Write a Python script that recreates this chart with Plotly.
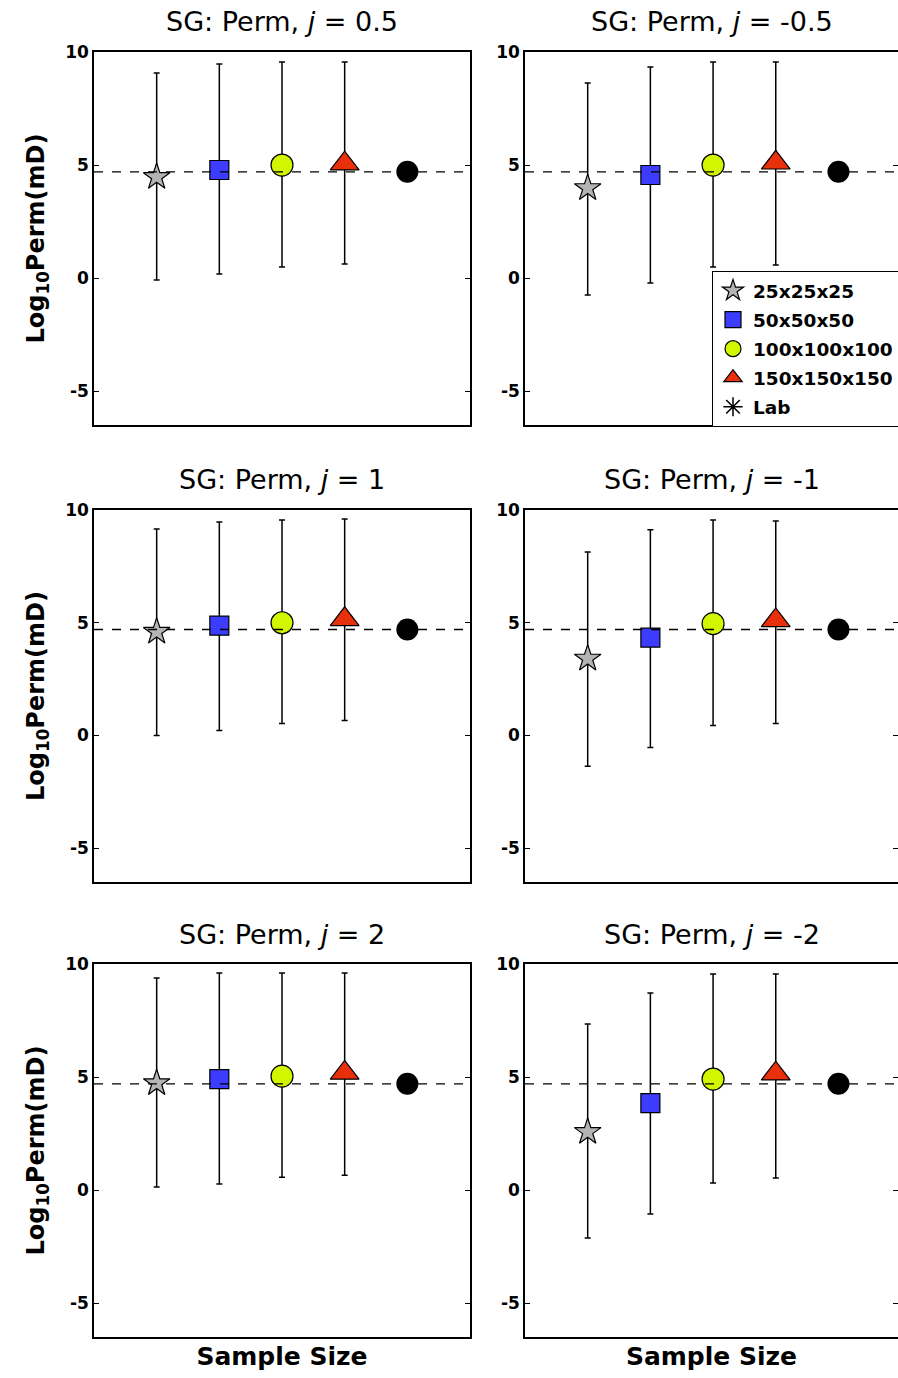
import plotly.graph_objects as go

# ---------------- data ----------------
sample_sizes = ["25x25x25", "50x50x50", "100x100x100", "150x150x150"]
lab_label = "Lab"
j_values = ["0.5", "-0.5", "1", "-1", "2", "-2"]

# mean log10 permeability per panel (order follows j_values)
mean_25 = [4.47, 3.98, 4.60, 3.41, 4.73, 2.57]
mean_50 = [4.78, 4.56, 4.87, 4.34, 4.91, 3.85]
mean_100 = [5.00, 5.00, 5.00, 4.96, 5.04, 4.91]
mean_150 = [5.06, 5.10, 5.15, 5.10, 5.18, 5.15]

upper_25 = [9.07, 8.63, 9.16, 8.14, 9.38, 7.35]
lower_25 = [-0.09, -0.75, 0.00, -1.37, 0.13, -2.12]
upper_50 = [9.47, 9.34, 9.47, 9.12, 9.60, 8.72]
lower_50 = [0.18, -0.22, 0.22, -0.53, 0.27, -1.06]
upper_100 = [9.56, 9.56, 9.56, 9.56, 9.60, 9.56]
lower_100 = [0.49, 0.49, 0.53, 0.44, 0.57, 0.31]
upper_150 = [9.56, 9.56, 9.60, 9.51, 9.60, 9.56]
lower_150 = [0.62, 0.58, 0.66, 0.53, 0.66, 0.53]

lab_value = [4.70, 4.70, 4.70, 4.70, 4.70, 4.70]

y_ticks = [-5, 0, 5, 10]
y_tick_text = ["-5", "0", "5", "10"]

# ---------------- styles ----------------
FONT = "DejaVu Sans, sans-serif"
styles = [
    dict(symbol="star", size=20, color="#b4b4b4"),
    dict(symbol="square", size=19, color="#3c3cff"),
    dict(symbol="circle", size=22, color="#d2f500"),
    dict(symbol="triangle-up", size=25, color="#e8300c"),
]
means = [mean_25, mean_50, mean_100, mean_150]
uppers = [upper_25, upper_50, upper_100, upper_150]
lowers = [lower_25, lower_50, lower_100, lower_150]

W, H = 898, 1378
col_px = [(94, 470), (525, 898)]
row_px = [(52, 425), (510, 882), (964, 1337)]
xranges = [[-1, 5], [-1, 4.95]]

fig = go.Figure()

for p in range(6):
    r, c = divmod(p, 2)
    ax = "" if p == 0 else str(p + 1)
    xa, ya = "x" + ax, "y" + ax
    for k in range(4):
        st = styles[k]
        m = means[k][p]
        fig.add_trace(go.Scatter(
            x=[sample_sizes[k]], y=[m], xaxis=xa, yaxis=ya,
            mode="markers", name=sample_sizes[k], legendgroup=sample_sizes[k],
            showlegend=(p == 0),
            marker=dict(symbol=st["symbol"], size=st["size"], color=st["color"],
                        line=dict(color="black", width=1.2)),
            error_y=dict(type="data", symmetric=False,
                         array=[uppers[k][p] - m], arrayminus=[m - lowers[k][p]],
                         color="black", thickness=1.5, width=3),
        ))
    fig.add_trace(go.Scatter(
        x=[lab_label], y=[lab_value[p]], xaxis=xa, yaxis=ya, mode="markers",
        showlegend=False, marker=dict(symbol="circle", size=22, color="black"),
    ))
    # dashed reference line at lab value
    fig.add_shape(type="line", xref=xa + " domain", yref=ya, x0=0, x1=1,
                  y0=lab_value[p], y1=lab_value[p], layer="above",
                  line=dict(color="black", width=1.3, dash="dash"))
    # panel title
    fig.add_annotation(xref=xa + " domain", yref=ya + " domain", x=0.5, y=1,
                       yshift=30, yanchor="middle", showarrow=False,
                       text=f"SG: Perm, <i>j</i> = {j_values[p]}",
                       font=dict(family=FONT, size=27, color="black"))

    x0, x1 = col_px[c]
    y0, y1 = row_px[r]
    xd = [x0 / W, x1 / W]
    yd = [1 - y1 / H, 1 - y0 / H]
    xkey = "xaxis" + ax
    ykey = "yaxis" + ax
    xdef = dict(
        domain=xd, anchor=ya, range=xranges[c], type="category",
        categoryorder="array", categoryarray=sample_sizes + [lab_label],
        showline=True, linecolor="black", linewidth=1.5, mirror=True,
        ticks="", showticklabels=False, showgrid=False, zeroline=False,
        automargin=False,
    )
    if r == 2:
        xdef["title"] = dict(text="Sample Size",
                             font=dict(family=FONT, size=25, color="black", weight="bold"),
                             standoff=10)
    ydef = dict(
        domain=yd, anchor=xa, range=[-6.5, 10],
        tickmode="array", tickvals=y_ticks, ticktext=y_tick_text,
        ticks="inside", ticklen=5, tickwidth=1.2, tickcolor="black",
        mirror="allticks", showline=True, linecolor="black", linewidth=1.5,
        showgrid=False, zeroline=False, automargin=False,
        tickfont=dict(family=FONT, size=17, color="black", weight="bold"),
    )
    if c == 0:
        ydef["title"] = dict(text="Log<sub>10</sub>Perm(mD)",
                             font=dict(family=FONT, size=24, color="black", weight="bold"),
                             standoff=14)
    fig.layout[xkey] = xdef
    fig.layout[ykey] = ydef

# legend-only entry for Lab (asterisk)
fig.add_trace(go.Scatter(
    x=[None], y=[None], xaxis="x2", yaxis="y2", mode="markers", name=lab_label,
    legendgroup=lab_label,
    marker=dict(symbol="asterisk-open", size=16, color="black",
                line=dict(color="black", width=1.5)),
))

fig.update_layout(
    width=W, height=H, margin=dict(l=0, r=0, t=0, b=0, autoexpand=False),
    paper_bgcolor="white", plot_bgcolor="white",
    font=dict(family=FONT, color="black"),
    legend=dict(x=712 / W, y=1 - 271 / H, xanchor="left", yanchor="top",
                bgcolor="white", bordercolor="black", borderwidth=1,
                font=dict(family=FONT, size=18.5, color="black", weight="bold"),
                tracegroupgap=2, itemsizing="trace"),
)

fig.write_html("out.html")
